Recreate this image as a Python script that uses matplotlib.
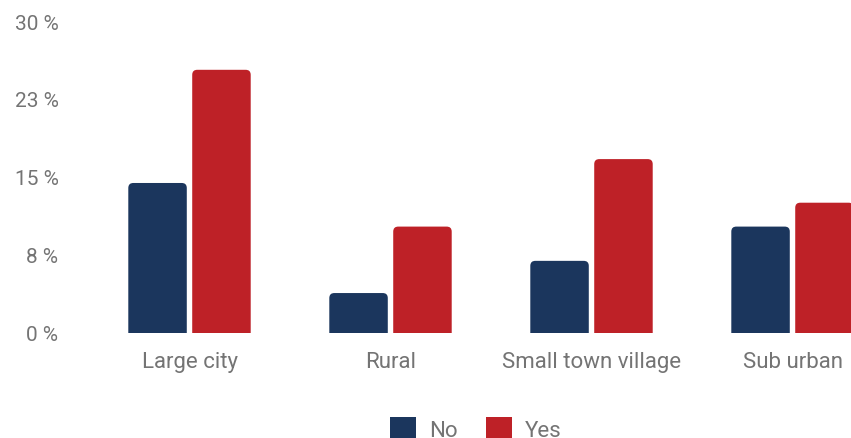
import matplotlib
matplotlib.use("Agg")
import matplotlib.pyplot as plt
from matplotlib.patches import FancyBboxPatch, Patch

# -------------------------
# data
# -------------------------
categories = ["Large city", "Rural", "Small town village", "Sub urban"]
no_values = [14.4, 3.8, 6.9, 10.2]
yes_values = [25.3, 10.2, 16.7, 12.5]
y_ticks = [0, 7.5, 15, 22.5, 30]
y_tick_labels = ["0 %", "8 %", "15 %", "23 %", "30 %"]

# -------------------------
# style
# -------------------------
navy = "#1b365d"
red = "#be2127"
text_gray = "#747474"
plt.rcParams["font.family"] = ["Roboto", "DejaVu Sans"]

W, H = 851, 439
fig = plt.figure(figsize=(W / 100, H / 100), dpi=100)
ax = fig.add_axes([89 / W, (H - 333.5) / H, (W - 89) / W, (333.5 - 22) / H])

bar_w = 0.291
offset = 0.159
ax.set_xlim(-0.5, 3.291)
ax.set_ylim(0, 30)

# px per data unit, used for rounded corner aspect
px_x = (W - 89) / (3.291 + 0.5)
px_y = (333.5 - 22) / 30
r_px = 5
r_x = r_px / px_x
aspect = (r_px / px_y) / r_x


def rounded_bars(xs, heights, color):
    bars = ax.bar(xs, heights, width=bar_w, color=color)
    for b in bars:
        b.set_visible(False)
        x0, w, h = b.get_x(), b.get_width(), b.get_height()
        # box extends below zero so the bottom corners get clipped square
        patch = FancyBboxPatch((x0, -1), w, h + 1,
                               boxstyle=f"round,pad=0,rounding_size={r_x}",
                               mutation_aspect=aspect,
                               facecolor=color, edgecolor="none")
        ax.add_patch(patch)
    return bars


xs = list(range(len(categories)))
rounded_bars([x - offset for x in xs], no_values, navy)
rounded_bars([x + offset for x in xs], yes_values, red)

ax.set_xticks(xs)
ax.set_xticklabels(categories, fontsize=16, color=text_gray)
ax.set_yticks(y_ticks)
ax.set_yticklabels(y_tick_labels, fontsize=15, color=text_gray)
ax.tick_params(axis="both", length=0)
ax.tick_params(axis="x", pad=13)
ax.tick_params(axis="y", pad=22)
for s in ax.spines.values():
    s.set_visible(False)

handles = [Patch(facecolor=navy, label="No"), Patch(facecolor=red, label="Yes")]
fig.legend(handles=handles, loc="center", bbox_to_anchor=(476 / W, 1 - 430 / H),
           ncol=2, frameon=False, fontsize=16, labelcolor=text_gray,
           handlelength=1.15, handleheight=1.15, handletextpad=0.6,
           columnspacing=1.3)

fig.savefig("out.png", dpi=100)
